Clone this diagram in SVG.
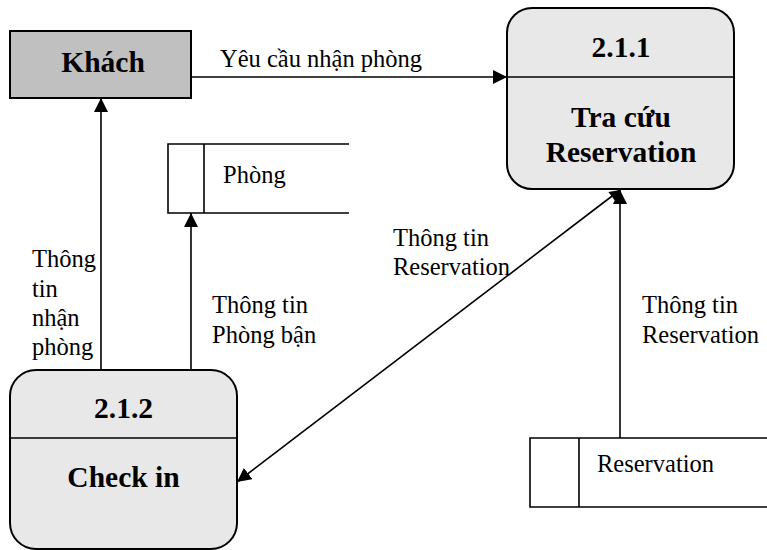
<svg xmlns="http://www.w3.org/2000/svg" width="767" height="550" viewBox="0 0 767 550">
<style>
text{font-family:'Liberation Serif','Times New Roman',Tinos,'DejaVu Serif',serif}
.t{font-size:24.5px;fill:#000}
.b{font-size:29.5px;font-weight:bold;fill:#000;text-anchor:middle}
.ln{stroke:#000;stroke-width:1.6;fill:none}
.box{stroke:#000;stroke-width:2;fill:#e8e8e8}
</style>
<defs>
<marker id="ah" viewBox="0 0 10 10" refX="10" refY="5" markerWidth="14" markerHeight="14" markerUnits="userSpaceOnUse" orient="auto">
<path d="M0,0 L10,5 L0,10 z" fill="#000"/>
</marker>
</defs>
<rect width="767" height="550" fill="#fff"/>
<g id="khach">
<rect x="10" y="31" width="181" height="67" fill="#c0c0c0" stroke="#000" stroke-width="2"/>
<text class="b" x="103" y="72" font-family="Liberation Serif, serif">Khách</text>
</g>
<g id="p211">
<rect class="box" x="507" y="8" width="227" height="181" rx="25" ry="25"/>
<line class="ln" x1="507" y1="77" x2="734" y2="77"/>
<text class="b" x="621" y="57" font-family="Liberation Serif, serif">2.1.1</text>
<text class="b" x="621" y="127" font-family="Liberation Serif, serif">Tra cứu</text>
<text class="b" x="621" y="162" font-family="Liberation Serif, serif">Reservation</text>
</g>
<g id="p212">
<rect class="box" x="10" y="370" width="227" height="179" rx="26" ry="26"/>
<line class="ln" x1="10" y1="438" x2="237" y2="438"/>
<text class="b" x="123.5" y="418" font-family="Liberation Serif, serif">2.1.2</text>
<text class="b" x="123.5" y="487" font-family="Liberation Serif, serif">Check in</text>
</g>
<g id="phong">
<path class="ln" d="M349,144 H168 V213 H349 M204,144 V213"/>
<text class="t" x="223" y="183" font-family="Liberation Serif, serif">Phòng</text>
</g>
<g id="reservation">
<path class="ln" d="M767,438 H530 V507 H767 M579,438 V507"/>
<text class="t" x="597" y="472" font-family="Liberation Serif, serif">Reservation</text>
</g>
<g id="connectors">
<line class="ln" x1="191" y1="77" x2="507" y2="77" marker-end="url(#ah)"/>
<line class="ln" x1="101" y1="370" x2="101" y2="98" marker-end="url(#ah)"/>
<line class="ln" x1="191" y1="370" x2="191" y2="213" marker-end="url(#ah)"/>
<line class="ln" x1="620" y1="438" x2="620" y2="190" marker-end="url(#ah)"/>
<line class="ln" x1="620" y1="190" x2="237" y2="482" marker-end="url(#ah)"/>
<path d="M620,190 L616.9,203.3 L608.4,192.1 z" fill="#000"/>
<text class="t" x="220" y="67" font-family="Liberation Serif, serif">Yêu cầu nhận phòng</text>
<text class="t" x="32" y="267" font-family="Liberation Serif, serif">Thông</text>
<text class="t" x="32" y="297" font-family="Liberation Serif, serif">tin</text>
<text class="t" x="32" y="326" font-family="Liberation Serif, serif">nhận</text>
<text class="t" x="32" y="355" font-family="Liberation Serif, serif">phòng</text>
<text class="t" x="212" y="313" font-family="Liberation Serif, serif">Thông tin</text>
<text class="t" x="212" y="343" font-family="Liberation Serif, serif">Phòng bận</text>
<text class="t" x="393" y="246" font-family="Liberation Serif, serif">Thông tin</text>
<text class="t" x="393" y="275" font-family="Liberation Serif, serif">Reservation</text>
<text class="t" x="642" y="313" font-family="Liberation Serif, serif">Thông tin</text>
<text class="t" x="642" y="343" font-family="Liberation Serif, serif">Reservation</text>
</g>
</svg>
